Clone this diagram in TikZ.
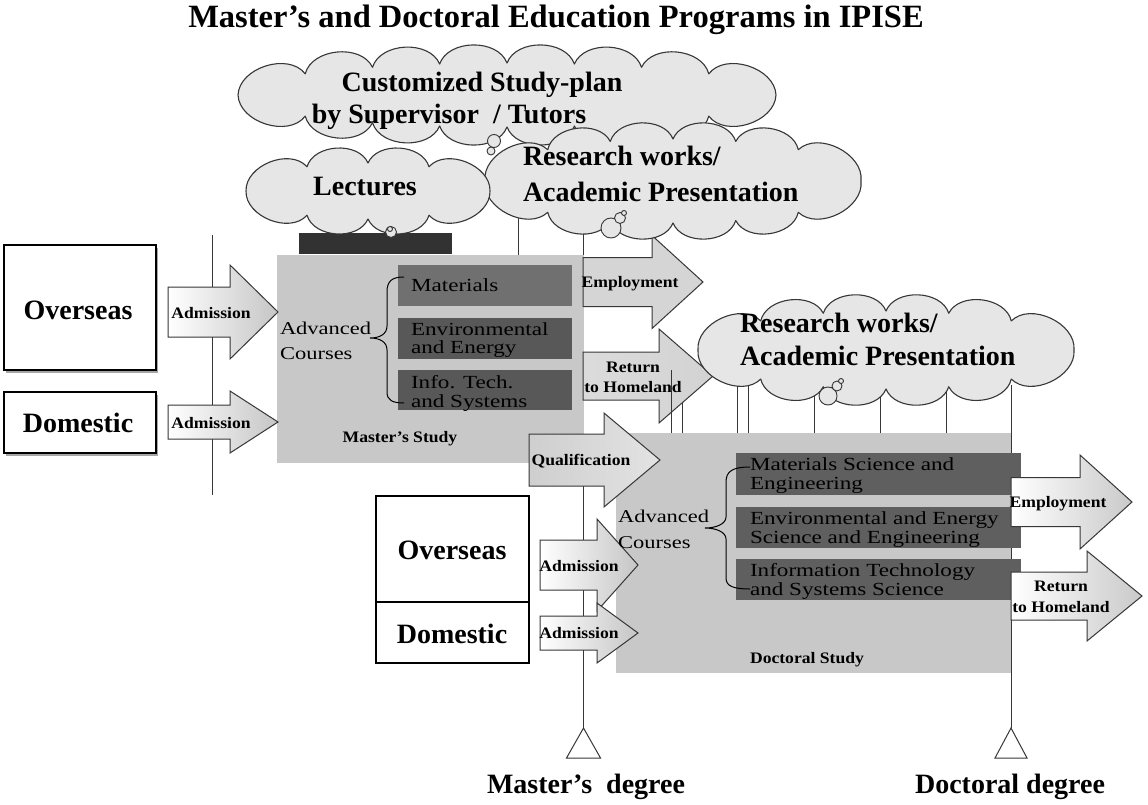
\documentclass[tikz,border=0pt]{standalone}
\usepackage{fontspec}
\setmainfont{Liberation Serif}
\newfontfamily\wideserif[FakeStretch=1.25]{Liberation Serif}
\newfontfamily\labelserif[FakeStretch=1.1]{Liberation Serif}
\usetikzlibrary{shadows}
\definecolor{boxgray}{RGB}{200,200,200}
\definecolor{darkA}{RGB}{112,112,112}
\definecolor{darkB}{RGB}{88,88,88}
\definecolor{darkC}{RGB}{95,95,95}
\definecolor{barcol}{RGB}{50,50,50}
\definecolor{cloudfill}{RGB}{230,230,230}
\definecolor{linecol}{RGB}{55,55,55}
\newcommand\blockarrow[7]{%
  \path[#1] (#2,#5-#6) -- (#3,#5-#6) -- (#3,#5-#7) -- (#4,#5) -- (#3,#5+#7) -- (#3,#5+#6) -- (#2,#5+#6) -- cycle;}
% cloud: style, cx, cy, a, b, angle list (ending with 360)
\newcommand\cloudshape[6]{%
  \path[#1] ({#2+#4},#3) \foreach \t in {#6} { to[bend left=70] ({#2+#4*cos(\t)},{#3+#5*sin(\t)}) } -- cycle;}
\begin{document}
\begin{tikzpicture}[x=1pt,y=-1pt,
  every node/.style={inner sep=0pt, outer sep=0pt},
  vline/.style={draw=linecol, line width=0.9pt},
  cloudstyle/.style={draw=linecol, fill=cloudfill, line width=1.1pt, line join=round},
  bubble/.style={circle, draw=linecol, fill=cloudfill, line width=0.9pt},
  lightbox/.style={fill=boxgray},
  whitebox/.style={draw=black, fill=white, line width=1.1pt},
  shadowbox/.style={whitebox, drop shadow={shadow xshift=2pt, shadow yshift=-2.5pt, fill=gray!70, opacity=1}},
  arrline/.style={draw=linecol, line width=1pt},
  arrAdm/.style={arrline, left color=white, right color=gray!45},
  arrEmp/.style={arrline, fill=gray!33},
  arrRet/.style={arrline, left color=gray!28, middle color=white!94!gray, right color=gray!35},
  arrQual/.style={arrline, left color=gray!38, right color=gray!22},
  arrDoc/.style={arrline, left color=white, right color=gray!42},
  bracestyle/.style={draw=black, line width=1pt},
  tri/.style={draw=linecol, fill=white, line width=1pt},
  bigtxt/.style={font=\fontsize{28}{30}\selectfont\bfseries},
  coursetxt/.style={font=\wideserif\fontsize{18.5}{19}\selectfont},
  advtxt/.style={font=\wideserif\fontsize{18}{25}\selectfont},
  smalltxt/.style={font=\labelserif\fontsize{16}{18}\selectfont\bfseries}]
\useasboundingbox (0,0) rectangle (1148,805);
\fill[white] (0,0) rectangle (1148,805);

% ---------- vertical lines (behind) ----------
\coordinate (lefttop) at (212,235);
\coordinate (leftbot) at (212,495);
\coordinate (mtop) at (583.5,210);
\coordinate (mdeg) at (583.5,728);
\coordinate (dtop) at (1011,385);
\coordinate (ddeg) at (1011,728);
\draw[vline] (lefttop) -- (leftbot);
\draw[vline] (mtop) -- (mdeg);
\draw[vline] (dtop) -- (ddeg);
\coordinate (r1a) at (518,200); \coordinate (r1b) at (518,255);
\coordinate (r1c) at (652,210); \coordinate (r1d) at (652,240);
\draw[vline] (r1a) -- (r1b);
\draw[vline] (r1c) -- (r1d);
\foreach \xx/\yy in {682/403,737/380,748/380,814/380,880/380,946/380}{
  \coordinate (ra\xx) at (\xx,\yy); \coordinate (rb\xx) at (\xx,433);
  \draw[vline] (ra\xx) -- (rb\xx);}

% ---------- boxes ----------
\node[lightbox, minimum width=307pt, minimum height=208pt] (mbox) at (430.5,359) {};
\node[fill=barcol, minimum width=153pt, minimum height=21pt] (bar) at (375.5,243.5) {};
\node[fill=darkA, minimum width=174pt, minimum height=41pt] (mmat) at (485,285.5) {};
\node[fill=darkB, minimum width=174pt, minimum height=41pt] (menv) at (485,338.5) {};
\node[fill=darkB, minimum width=174pt, minimum height=40pt] (minf) at (485,390) {};
\node[lightbox, minimum width=395pt, minimum height=240pt] (dbox) at (813.5,553) {};
\node[fill=darkC, minimum width=285pt, minimum height=42pt] (dmat) at (878.5,474) {};
\node[fill=darkC, minimum width=285pt, minimum height=41pt] (denv) at (878.5,527.5) {};
\node[fill=darkC, minimum width=285pt, minimum height=41pt] (dinf) at (878.5,579.5) {};

\node[shadowbox, minimum width=152pt, minimum height=125pt] (mover) at (80,307.5) {};
\node[shadowbox, minimum width=152pt, minimum height=61pt] (mdom) at (80,422.5) {};
\node[whitebox, minimum width=153pt, minimum height=106pt] (dover) at (452.5,549) {};
\node[whitebox, minimum width=153pt, minimum height=61pt] (ddom) at (452.5,632.5) {};

% ---------- braces ----------
\draw[bracestyle] (404,277) .. controls (392,277) and (387,281) .. (387,292) -- (387,326)
  .. controls (387,334) and (380,338) .. (370,338) .. controls (380,338) and (387,342) .. (387,350)
  -- (387,392) .. controls (387,400) and (392,403) .. (404,403);
\draw[bracestyle] (750,467) .. controls (733,467) and (726,471) .. (726,482) -- (726,517)
  .. controls (726,524) and (716,528) .. (705,528) .. controls (716,528) and (726,532) .. (726,539)
  -- (726,578) .. controls (726,586) and (733,589) .. (750,589);

% ---------- block arrows ----------
\blockarrow{arrAdm}{168}{230}{278}{312}{25}{47}
\blockarrow{arrAdm}{168}{230}{278}{422}{17}{31}
\blockarrow{arrEmp}{583}{652}{703}{282}{24.5}{46.5}
\blockarrow{arrRet}{583}{659}{713}{376}{24}{47}
\blockarrow{arrQual}{529}{604}{660}{460}{26}{47}
\blockarrow{arrAdm}{540}{597}{638}{565}{25}{46}
\blockarrow{arrAdm}{540}{597}{638}{633}{17}{30}
\blockarrow{arrDoc}{1011}{1080}{1132}{502}{24.5}{47}
\blockarrow{arrDoc}{1011}{1087}{1142}{596}{24}{45}
\coordinate (ra671) at (671,370); \coordinate (rb671) at (671,433);
\draw[vline] (ra671) -- (rb671);

% ---------- degree triangles ----------
\draw[tri] (mdeg) -- ++(-17,30) -- ++(34,0) -- cycle;
\draw[tri] (ddeg) -- ++(-16,30) -- ++(32,0) -- cycle;

% ---------- clouds ----------
\cloudshape{cloudstyle}{507}{95}{269}{32}{41.4,60,75.5,90,104.5,120,138.6,180,221.4,240,255.5,270,284.5,300,318.6,360}
\cloudshape{cloudstyle}{673}{181}{188}{42}{48.2,70.5,90,109.5,131.8,180,228.2,250.5,270,289.5,311.8,360}
\cloudshape{cloudstyle}{368}{191}{122}{28}{60,90,120,180,240,270,300,360}
\cloudshape{cloudstyle}{886}{350}{188}{39}{48.2,70.5,90,109.5,131.8,180,228.2,250.5,270,289.5,311.8,360}
\node[bubble, minimum size=13pt] (pb1) at (494,141) {};
\node[bubble, minimum size=8pt] (pb2) at (491,151) {};
\node[bubble, minimum size=11pt] (lb1) at (391,232) {};
\node[bubble, minimum size=5pt] (lb2) at (390,229) {};
\node[bubble, minimum size=20pt] (rb1) at (611,228) {};
\node[bubble, minimum size=11pt] (rb2) at (620,218) {};
\node[bubble, minimum size=5pt] (rb3) at (624,213) {};
\node[bubble, minimum size=18pt] (sb1) at (828,396) {};
\node[bubble, minimum size=10pt] (sb2) at (837,386) {};
\node[bubble, minimum size=5pt] (sb3) at (841,381) {};

% ---------- texts ----------
\node[font=\fontsize{32.5}{34}\selectfont\bfseries, anchor=base] (title) at (556,28) {Master’s and Doctoral Education Programs in IPISE};
\node[bigtxt, anchor=base] (plant1) at (482,92) {Customized Study-plan};
\node[bigtxt, anchor=base] (plant2) at (449,124) {by Supervisor~ / Tutors};
\node[bigtxt, anchor=base] (lectt) at (365,196) {Lectures};
\node[bigtxt, anchor=base west] (res1t1) at (523,166) {Research works/};
\node[bigtxt, anchor=base west] (res1t2) at (523,201) {Academic Presentation};
\node[bigtxt, anchor=base west] (res2t1) at (740,332) {Research works/};
\node[bigtxt, anchor=base west] (res2t2) at (740,365) {Academic Presentation};
\node[bigtxt, anchor=base] (moverT) at (78,319) {Overseas};
\node[bigtxt, anchor=base] (mdomT) at (78,432) {Domestic};
\node[bigtxt, anchor=base] (doverT) at (452,559) {Overseas};
\node[bigtxt, anchor=base] (ddomT) at (452,643) {Domestic};
\node[bigtxt, anchor=base] (mdegT) at (586,793) {Master’s~ degree};
\node[bigtxt, anchor=base] (ddegT) at (1010,793) {Doctoral degree};

\node[coursetxt, anchor=base west] (mmatT) at (411,291) {Materials};
\node[coursetxt, anchor=base west] (menvT1) at (411,335) {Environmental};
\node[coursetxt, anchor=base west] (menvT2) at (411,353) {and Energy};
\node[coursetxt, anchor=base west] (minfT1) at (411,388) {Info. Tech.};
\node[coursetxt, anchor=base west] (minfT2) at (411,407) {and Systems};
\node[coursetxt, anchor=base west] (dmatT1) at (750,470) {Materials Science and};
\node[coursetxt, anchor=base west] (dmatT2) at (750,489) {Engineering};
\node[coursetxt, anchor=base west] (denvT1) at (750,524) {Environmental and Energy};
\node[coursetxt, anchor=base west] (denvT2) at (750,543) {Science and Engineering};
\node[coursetxt, anchor=base west] (dinfT1) at (750,576) {Information Technology};
\node[coursetxt, anchor=base west] (dinfT2) at (750,595) {and Systems Science};
\node[advtxt, anchor=base west] (madv1) at (280,334) {Advanced};
\node[advtxt, anchor=base west] (madv2) at (280,359) {Courses};
\node[advtxt, anchor=base west] (dadv1) at (618,522) {Advanced};
\node[advtxt, anchor=base west] (dadv2) at (618,548) {Courses};

\node[smalltxt, anchor=base] (madm1) at (211,318) {Admission};
\node[smalltxt, anchor=base] (madm2) at (211,428) {Admission};
\node[smalltxt, anchor=base] (memp) at (630,287) {Employment};
\node[smalltxt, anchor=base] (mret1) at (633,372) {Return};
\node[smalltxt, anchor=base] (mret2) at (633,392) {to Homeland};
\node[smalltxt, anchor=base] (qual) at (581,465) {Qualification};
\node[smalltxt, anchor=base] (mstudy) at (400,442) {Master’s Study};
\node[smalltxt, anchor=base] (dstudy) at (807,663) {Doctoral Study};
\node[smalltxt, anchor=base] (demp) at (1058,507) {Employment};
\node[smalltxt, anchor=base] (dret1) at (1061,591) {Return};
\node[smalltxt, anchor=base] (dret2) at (1061,612) {to Homeland};
\node[smalltxt, anchor=base] (dadm1) at (579,571) {Admission};
\node[smalltxt, anchor=base] (dadm2) at (579,638) {Admission};
\end{tikzpicture}
\end{document}
